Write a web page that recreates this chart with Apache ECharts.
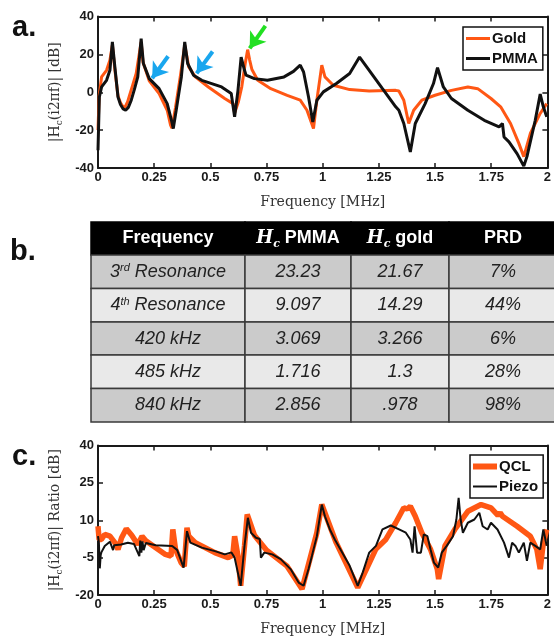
<!DOCTYPE html>
<html>
<head>
<meta charset="utf-8">
<script src="https://cdn.jsdelivr.net/npm/echarts@6/dist/echarts.min.js"></script>
<style>
  html, body { margin: 0; padding: 0; background: #fff; }
  #main { width: 554px; height: 637px; }
</style>
</head>
<body>
<div id="main"></div>
<script>
// panel a: |Hc| of gold and PMMA membranes
var goldFreq = [0, 0.005, 0.016, 0.038, 0.053, 0.064, 0.075, 0.089, 0.1, 0.112, 0.122, 0.132, 0.142, 0.155, 0.17, 0.192, 0.2, 0.228, 0.272, 0.308, 0.323, 0.329, 0.345, 0.366, 0.386, 0.404, 0.433, 0.491, 0.564, 0.601, 0.608, 0.625, 0.64, 0.655, 0.666, 0.675, 0.685, 0.711, 0.769, 0.842, 0.9, 0.93, 0.959, 0.974, 0.996, 1.01, 1.047, 1.12, 1.207, 1.325, 1.339, 1.361, 1.383, 1.405, 1.441, 1.5, 1.573, 1.646, 1.69, 1.749, 1.792, 1.836, 1.873, 1.895, 1.924, 1.968, 1.997];
var goldDb = [-20, -2, 8.1, 11.6, 16.9, 25, 12, -2, -5.5, -7.8, -7.5, -5, -1, 4, 9.9, 26.6, 16, 6, -0.7, -9.5, -17.4, -19, -8, 8, 25, 13.4, 8.1, 2.8, -3.3, -6, -11, -5, 3, 15, 22.5, 17, 12, 6.3, 1.9, -1.6, -4.2, -9.5, -19.2, -4.2, 14.3, 8.1, 3.7, 1.4, 0.7, 1, 0.7, -4.2, -16.5, -9.5, -4.2, -1.6, 1, 2.8, 1.9, -3.3, -7.7, -16.5, -27, -34, -21.8, -11.2, -6];
var pmmaFreq = [0, 0.006, 0.016, 0.038, 0.053, 0.064, 0.075, 0.089, 0.1, 0.112, 0.123, 0.135, 0.148, 0.162, 0.177, 0.192, 0.202, 0.228, 0.272, 0.308, 0.327, 0.335, 0.348, 0.371, 0.386, 0.399, 0.425, 0.462, 0.55, 0.593, 0.608, 0.623, 0.637, 0.652, 0.659, 0.696, 0.754, 0.828, 0.87, 0.9, 0.915, 0.937, 0.956, 0.974, 1.003, 1.061, 1.12, 1.164, 1.207, 1.266, 1.325, 1.339, 1.361, 1.39, 1.412, 1.456, 1.493, 1.511, 1.537, 1.573, 1.646, 1.719, 1.785, 1.8, 1.807, 1.829, 1.865, 1.895, 1.909, 1.946, 1.968, 1.982, 1.997];
var pmmaDb = [-30.6, -2.5, 2.8, 6.3, 11.6, 26.6, 13.4, -2.5, -6.5, -8.8, -9.5, -8, -4.2, 1.5, 8.1, 28.3, 15.2, 7.2, 1.9, -6, -14.8, -19.2, -9.5, 8.1, 26.6, 15.2, 9, 6.3, 2.8, -0.7, -13, 1, 18.6, 11.6, 9, 7.2, 6.3, 8.1, 11, 14.3, 10.7, -2.5, -15.7, -4.2, 0.2, 4.6, 9.9, 18.6, 11.6, 1.9, -7.7, -9.5, -16.5, -31.5, -16.5, -6, 4.6, 13, 2.8, -3.3, -9.5, -14.8, -18.3, -16.5, -23.6, -26.2, -32.4, -39, -34, -14.8, -1, -7.7, -13];
// arrows in panel a: [freq, dB]
var arrowTails = [[0.312, 19], [0.51, 21.5], [0.745, 35]];
var arrowHeads = [[0.241, 7.4], [0.439, 10], [0.675, 23.2]];
var arrowColors = ['#19a6ee', '#19a6ee', '#22e022'];

// panel b: table
var tableHeader = ['Frequency', '{i|H}{s|c} PMMA', '{i|H}{s|c} gold', 'PRD'];
var rowLabels = ['3{sup|rd} Resonance', '4{sup|th} Resonance', '420 kHz', '485 kHz', '840 kHz'];
var hcPmma = ['23.23', '9.097', '3.069', '1.716', '2.856'];
var hcGold = ['21.67', '14.29', '3.266', '1.3', '.978'];
var prd = ['7%', '44%', '6%', '28%', '98%'];

// panel c: ratio, QCL vs piezo
var qclFreq = [0, 0.005, 0.015, 0.03, 0.053, 0.075, 0.089, 0.105, 0.126, 0.15, 0.177, 0.196, 0.213, 0.257, 0.3, 0.325, 0.333, 0.345, 0.37, 0.384, 0.396, 0.404, 0.433, 0.52, 0.579, 0.6, 0.608, 0.623, 0.635, 0.652, 0.664, 0.696, 0.75, 0.84, 0.908, 0.974, 0.996, 1.06, 1.156, 1.237, 1.281, 1.325, 1.361, 1.376, 1.39, 1.412, 1.441, 1.48, 1.51, 1.516, 1.544, 1.588, 1.646, 1.705, 1.749, 1.78, 1.79, 1.8, 1.865, 1.924, 1.953, 1.968, 1.982, 1.997];
var qclRatio = [7.6, 2.3, 2.3, 4.3, 3.6, 1, -1.7, 3, 6.6, 4, 0.3, 3.6, 1.8, -1, -3.7, -4.4, 6.3, -1.7, -7, -8.5, 7, 3.6, 1, -3, -5, -4, 3.6, -4.4, -16.3, -0.3, 12.3, 4, -2, -8.3, -17.6, 5, 16.3, 1, -17, -1.5, 2.3, 9, 15, 14.5, 15.6, 11.6, 5, -1.7, -9.6, -13.6, -0.3, 6.3, 13.6, 16.3, 15, 12, 13, 11.6, 7.6, 3.6, -1.7, -9.6, 1, 6.3];
var piezoFreq = [0, 0.004, 0.008, 0.012, 0.015, 0.03, 0.053, 0.067, 0.072, 0.103, 0.133, 0.16, 0.184, 0.188, 0.193, 0.198, 0.203, 0.213, 0.257, 0.33, 0.352, 0.381, 0.396, 0.411, 0.462, 0.52, 0.564, 0.594, 0.608, 0.635, 0.652, 0.667, 0.681, 0.703, 0.72, 0.725, 0.74, 0.776, 0.813, 0.857, 0.893, 0.915, 0.937, 0.952, 0.974, 0.996, 1.01, 1.032, 1.054, 1.083, 1.12, 1.156, 1.178, 1.207, 1.237, 1.266, 1.303, 1.34, 1.37, 1.39, 1.4, 1.409, 1.42, 1.437, 1.45, 1.466, 1.48, 1.495, 1.514, 1.53, 1.552, 1.58, 1.595, 1.605, 1.614, 1.624, 1.646, 1.675, 1.697, 1.712, 1.734, 1.749, 1.778, 1.807, 1.829, 1.843, 1.858, 1.873, 1.895, 1.909, 1.924, 1.946, 1.968, 1.982, 1.997];
var piezoRatio = [3.6, 1, -9.3, -4, -2.9, -0.3, 1.4, -2, 0, 0.3, 1, 0.5, -4.4, 1.8, -3, 1.5, -2, 0.9, 0, -0.3, -1.9, -9, 5.6, 1, -1, -2.4, -3.7, -2.9, -5, -16.3, -0.3, 11, 5, 3, 2.5, -5, -3, -3.7, -5.6, -9.6, -15, -16.3, -9.6, -4.3, 3.6, 16.3, 11.6, 6.3, 2.3, -2.3, -8.3, -16.3, -11, -3, -0.3, 6.3, 7.9, 6.3, 5, 2.3, -3, 7.6, -3, -3, 4.3, 3.6, -1.7, -7, -9, -3, -0.3, 3.6, 10.3, 19, 10.3, 5, 9, 10.3, 13, 7.6, 6.3, 9, 6.3, 1, -5, 1, -0.3, -3, 1, -6.3, 1, -0.3, -1.7, 6.3, -0.3];

var ORANGE = '#ff5714';
var BLACK = '#111111';

function pairs(xs, ys) {
	var out = [];
	for (var i = 0; i < xs.length; i++) out.push([xs[i], ys[i]]);
	return out;
}

var SANS = 'Liberation Sans, Arial';
var nameFont = {
	fontFamily: 'DejaVu Serif', fontSize: 14, color: '#333',
	rich: {
		m: { fontFamily: 'DejaVu Serif', fontSize: 14, color: '#333', lineHeight: 18 },
		s: { fontFamily: 'DejaVu Serif', fontSize: 9, color: '#333', verticalAlign: 'bottom', lineHeight: 9 }
	}
};

function makeX(grid, pos, show) {
	return {
		type: 'value', gridIndex: grid, position: pos, min: 0, max: 2, interval: 0.25,
		name: show ? 'Frequency [MHz]' : '', nameLocation: 'middle', nameGap: 27,
		nameTextStyle: nameFont,
		axisLine: { onZero: false, lineStyle: { color: '#1a1a1a', width: 2 } },
		splitLine: { show: false },
		axisTick: { inside: true, length: 5, lineStyle: { width: 1.5, color: '#1a1a1a' } },
		axisLabel: { show: show, margin: 3, fontFamily: SANS, fontWeight: 'bold', fontSize: 13, color: '#1a1a1a' }
	};
}
function makeY(grid, pos, show, min, max, step, name) {
	return {
		type: 'value', gridIndex: grid, position: pos, min: min, max: max, interval: step,
		name: show ? name : '', nameLocation: 'middle', nameGap: 33, nameRotate: 90,
		nameTextStyle: nameFont,
		axisLine: { onZero: false, lineStyle: { color: '#1a1a1a', width: 2 } },
		splitLine: { show: false },
		axisTick: { inside: true, length: 5, lineStyle: { width: 1.5, color: '#1a1a1a' } },
		axisLabel: { show: show, margin: 4, fontFamily: SANS, fontWeight: 'bold', fontSize: 13, color: '#1a1a1a' }
	};
}
function makeLegend(names, icons, left, top) {
	var data = [];
	for (var i = 0; i < names.length; i++) data.push({ name: names[i], icon: icons[i] });
	return {
		data: data, orient: 'vertical', left: left, top: top,
		backgroundColor: '#fff', borderColor: '#111', borderWidth: 1.5, borderRadius: 0,
		padding: [4, 5, 4, 3], itemGap: 5, itemWidth: 24, itemHeight: 14,
		textStyle: { fontFamily: SANS, fontWeight: 'bold', fontSize: 15, color: '#111', padding: [0, 0, 0, -3] }
	};
}

// arrows drawn as markLines in data coordinates
var arrowData = [];
for (var a = 0; a < arrowTails.length; a++) {
	arrowData.push([
		{ coord: arrowTails[a], lineStyle: { color: arrowColors[a], width: 4, type: 'solid' } },
		{ coord: arrowHeads[a] }
	]);
}

// table built from the arrays
var colX = [91, 245, 351, 449, 557];
var rowY = [222, 255, 288.5, 322, 355, 388.5, 422];
var graphics = [];
var rich = {
	i: { fontFamily: 'DejaVu Serif', fontStyle: 'italic', fontWeight: 'bold', fontSize: 18, color: '#fff', lineHeight: 22 },
	s: { fontFamily: 'DejaVu Serif', fontStyle: 'italic', fontWeight: 'bold', fontSize: 11, color: '#fff', verticalAlign: 'bottom', lineHeight: 11 },
	sup: { fontFamily: SANS, fontStyle: 'italic', fontSize: 11, color: '#222', verticalAlign: 'top', lineHeight: 11 }
};
var bodyCols = [rowLabels, hcPmma, hcGold, prd];
for (var r = 0; r < rowY.length - 1; r++) {
	var fill = r === 0 ? '#000' : (r % 2 === 1 ? '#cbcbcb' : '#e9e9e9');
	for (var c = 0; c < 4; c++) {
		graphics.push({
			type: 'rect', shape: { x: colX[c], y: rowY[r], width: colX[c + 1] - colX[c], height: rowY[r + 1] - rowY[r] },
			style: { fill: fill, stroke: r === 0 ? '#000' : '#3a3a3a', lineWidth: 1.5 }
		});
		var txt = r === 0 ? tableHeader[c] : bodyCols[c][r - 1];
		graphics.push({
			type: 'text', x: (colX[c] + colX[c + 1]) / 2, y: (rowY[r] + rowY[r + 1]) / 2,
			style: {
				text: txt, align: 'center', verticalAlign: 'middle',
				fontFamily: SANS, fontSize: 18,
				fontWeight: r === 0 ? 'bold' : 'normal', fontStyle: r === 0 ? 'normal' : 'italic',
				fill: r === 0 ? '#fff' : '#222', rich: rich
			}
		});
	}
}
// panel letters
var letters = [['a.', 12, 28], ['b.', 10, 252], ['c.', 12, 457]];
for (var k = 0; k < letters.length; k++) {
	graphics.push({
		type: 'text', x: letters[k][1], y: letters[k][2],
		style: { text: letters[k][0], fontFamily: SANS, fontWeight: 'bold', fontSize: 29, fill: '#111', verticalAlign: 'middle' }
	});
}

var chart = echarts.init(document.getElementById('main'), null, { renderer: 'canvas' });
var option = {
	animation: false,
	backgroundColor: '#fff',
	grid: [
		{ left: 98, top: 16.5, width: 455, height: 151.5 },
		{ left: 98, top: 445.5, width: 455, height: 150.5 }
	],
	xAxis: [makeX(0, 'bottom', true), makeX(0, 'top', false), makeX(1, 'bottom', true), makeX(1, 'top', false)],
	yAxis: [
		makeY(0, 'left', true, -40, 40, 20, '{m||H}{s|c}{m|(i2πf)| [dB]}'),
		makeY(0, 'right', false, -40, 40, 20, ''),
		makeY(1, 'left', true, -20, 40, 15, '{m||H}{s|c}{m|(i2πf)| Ratio [dB]}'),
		makeY(1, 'right', false, -20, 40, 15, '')
	],
	legend: [
		makeLegend(['Gold', 'PMMA'], ['path://M0,0H24V3H0Z', 'path://M0,0H24V3H0Z'], 463, 27),
		makeLegend(['QCL', 'Piezo'], ['path://M0,0H24V6H0Z', 'path://M0,0H24V2H0Z'], 470, 455)
	],
	graphic: graphics,
	series: [
		{
			name: 'Gold', type: 'line', xAxisIndex: 0, yAxisIndex: 0, data: pairs(goldFreq, goldDb),
			showSymbol: false, symbol: 'none', color: ORANGE, lineStyle: { color: ORANGE, width: 3 }, z: 2,
			markLine: { silent: true, symbol: ['none', 'arrow'], symbolSize: 15, label: { show: false }, data: arrowData, z: 5 }
		},
		{
			name: 'PMMA', type: 'line', xAxisIndex: 0, yAxisIndex: 0, data: pairs(pmmaFreq, pmmaDb),
			showSymbol: false, symbol: 'none', color: BLACK, lineStyle: { color: BLACK, width: 3 }, z: 3
		},
		{
			name: 'QCL', type: 'line', xAxisIndex: 2, yAxisIndex: 2, data: pairs(qclFreq, qclRatio),
			showSymbol: false, symbol: 'none', color: ORANGE, lineStyle: { color: ORANGE, width: 5.5 }, z: 2
		},
		{
			name: 'Piezo', type: 'line', xAxisIndex: 2, yAxisIndex: 2, data: pairs(piezoFreq, piezoRatio),
			showSymbol: false, symbol: 'none', color: BLACK, lineStyle: { color: BLACK, width: 2 }, z: 3
		}
	]
};
chart.setOption(option);
</script>
</body>
</html>
